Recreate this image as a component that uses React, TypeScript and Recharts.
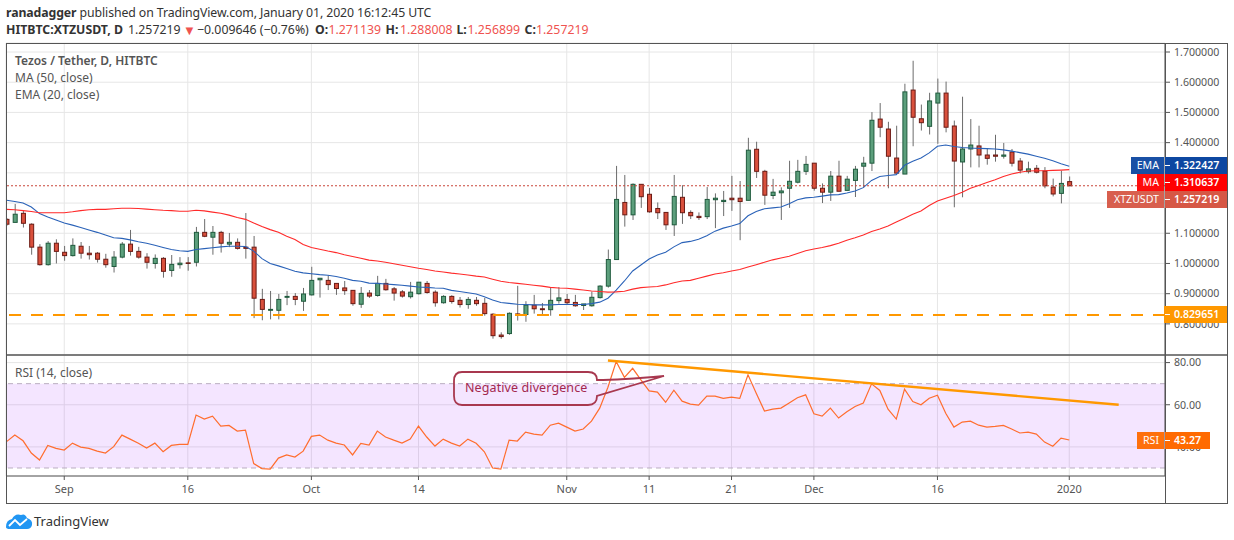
import { ComposedChart, Bar, Line, XAxis, YAxis, CartesianGrid, ReferenceLine, ReferenceArea } from "recharts";

const FONT = "'Noto Sans', sans-serif";
const firstDay = -7;

const opens = [
  1.146, 1.136, 1.166, 1.13, 1.054, 0.996, 1.067, 1.037, 1.026, 1.057,
  1.034, 1.034, 1.014, 0.99, 1.021, 1.064, 1.04, 1.021, 1.0, 1.017,
  0.977, 0.996, 1.002, 1.004, 1.103, 1.087, 1.103, 1.064, 1.07, 1.054,
  1.054, 0.881, 0.845, 0.845, 0.888, 0.891, 0.875, 0.896, 0.946, 0.944,
  0.934, 0.919, 0.911, 0.865, 0.902, 0.894, 0.934, 0.916, 0.906, 0.89,
  0.9, 0.934, 0.905, 0.87, 0.891, 0.878, 0.864, 0.878, 0.868, 0.832,
  0.763, 0.768, 0.833, 0.831, 0.862, 0.85, 0.847, 0.877, 0.881, 0.871,
  0.861, 0.86, 0.887, 0.925, 1.013, 1.202, 1.161, 1.262, 1.229, 1.182,
  1.169, 1.128, 1.219, 1.169, 1.156, 1.155, 1.211, 1.205, 1.216, 1.216,
  1.209, 1.378, 1.305, 1.225, 1.234, 1.249, 1.269, 1.305, 1.332, 1.249,
  1.236, 1.289, 1.242, 1.275, 1.322, 1.332, 1.478, 1.445, 1.349, 1.296,
  1.574, 1.479, 1.454, 1.531, 1.564, 1.455, 1.336, 1.379, 1.389, 1.359,
  1.359, 1.355, 1.369, 1.339, 1.304, 1.315, 1.306, 1.253, 1.232, 1.271,
];

const closes = [
  1.13, 1.163, 1.133, 1.054, 0.996, 1.067, 1.04, 1.026, 1.06, 1.034,
  1.029, 1.014, 0.996, 1.021, 1.064, 1.04, 1.021, 1.004, 1.017, 0.974,
  0.997, 1.001, 1.0, 1.103, 1.09, 1.103, 1.067, 1.07, 1.05, 1.05,
  0.885, 0.848, 0.848, 0.881, 0.891, 0.881, 0.899, 0.944, 0.951, 0.93,
  0.917, 0.91, 0.867, 0.901, 0.892, 0.934, 0.913, 0.902, 0.892, 0.905,
  0.938, 0.904, 0.87, 0.891, 0.874, 0.864, 0.881, 0.867, 0.834, 0.761,
  0.758, 0.835, 0.831, 0.862, 0.85, 0.847, 0.878, 0.886, 0.87, 0.86,
  0.866, 0.888, 0.925, 1.013, 1.212, 1.161, 1.262, 1.221, 1.171, 1.168,
  1.128, 1.222, 1.168, 1.158, 1.152, 1.212, 1.216, 1.209, 1.211, 1.205,
  1.375, 1.305, 1.226, 1.236, 1.24, 1.272, 1.305, 1.328, 1.249, 1.236,
  1.289, 1.239, 1.279, 1.312, 1.332, 1.474, 1.451, 1.355, 1.299, 1.568,
  1.484, 1.466, 1.538, 1.564, 1.451, 1.339, 1.379, 1.392, 1.359, 1.348,
  1.355, 1.359, 1.332, 1.309, 1.313, 1.302, 1.257, 1.23, 1.265, 1.257,
];

const highs = [
  1.15, 1.197, 1.174, 1.133, 1.064, 1.074, 1.08, 1.058, 1.083, 1.071,
  1.058, 1.038, 1.032, 1.041, 1.071, 1.111, 1.055, 1.034, 1.03, 1.021,
  1.028, 1.021, 1.021, 1.121, 1.147, 1.124, 1.108, 1.101, 1.083, 1.167,
  1.091, 0.916, 0.909, 0.899, 0.909, 0.902, 0.919, 0.989, 0.952, 0.961,
  0.934, 0.942, 0.911, 0.922, 0.912, 0.959, 0.949, 0.922, 0.912, 0.939,
  0.938, 0.942, 0.911, 0.895, 0.895, 0.889, 0.889, 0.889, 0.886, 0.835,
  0.772, 0.838, 0.926, 0.875, 0.896, 0.869, 0.921, 0.922, 0.899, 0.896,
  0.866, 0.907, 0.928, 1.046, 1.323, 1.293, 1.265, 1.262, 1.25, 1.202,
  1.169, 1.293, 1.259, 1.176, 1.169, 1.253, 1.232, 1.24, 1.29, 1.273,
  1.416, 1.403, 1.31, 1.28, 1.252, 1.34, 1.343, 1.356, 1.332, 1.265,
  1.306, 1.34, 1.29, 1.323, 1.353, 1.501, 1.531, 1.469, 1.456, 1.595,
  1.671, 1.526, 1.565, 1.612, 1.602, 1.473, 1.552, 1.478, 1.456, 1.382,
  1.426, 1.399, 1.379, 1.349, 1.337, 1.326, 1.319, 1.281, 1.307, 1.288,
];

const lows = [
  1.125, 1.136, 1.119, 1.029, 0.993, 0.993, 1.0, 1.009, 1.023, 1.016,
  1.013, 1.003, 0.986, 0.97, 1.017, 1.026, 1.016, 0.983, 0.983, 0.953,
  0.956, 0.983, 0.976, 0.99, 1.087, 1.029, 1.036, 1.054, 1.046, 1.016,
  0.819, 0.812, 0.815, 0.815, 0.862, 0.862, 0.843, 0.894, 0.887, 0.912,
  0.896, 0.896, 0.86, 0.853, 0.886, 0.89, 0.91, 0.877, 0.887, 0.884,
  0.897, 0.9, 0.857, 0.867, 0.867, 0.854, 0.85, 0.86, 0.827, 0.751,
  0.751, 0.764, 0.811, 0.807, 0.834, 0.827, 0.827, 0.867, 0.864, 0.857,
  0.846, 0.857, 0.884, 0.92, 1.013, 1.122, 1.144, 1.184, 1.168, 1.147,
  1.111, 1.091, 1.131, 1.147, 1.144, 1.147, 1.117, 1.157, 1.174, 1.077,
  1.209, 1.283, 1.194, 1.213, 1.144, 1.184, 1.265, 1.293, 1.241, 1.2,
  1.207, 1.239, 1.242, 1.22, 1.252, 1.306, 1.418, 1.249, 1.299, 1.296,
  1.388, 1.44, 1.427, 1.396, 1.434, 1.186, 1.219, 1.318, 1.318, 1.327,
  1.337, 1.347, 1.321, 1.298, 1.298, 1.298, 1.249, 1.222, 1.199, 1.257,
];

const ema20 = [
  1.209, 1.205, 1.2, 1.187, 1.165, 1.154, 1.144, 1.134, 1.127, 1.119,
  1.111, 1.103, 1.094, 1.085, 1.083, 1.078, 1.072, 1.067, 1.06, 1.053,
  1.046, 1.042, 1.04, 1.046, 1.049, 1.052, 1.055, 1.057, 1.057, 1.056,
  1.041, 1.016, 1.0, 0.992, 0.983, 0.974, 0.969, 0.966, 0.963, 0.961,
  0.957, 0.951, 0.944, 0.941, 0.935, 0.934, 0.932, 0.93, 0.928, 0.925,
  0.922, 0.921, 0.919, 0.918, 0.911, 0.907, 0.903, 0.899, 0.89, 0.879,
  0.871, 0.868, 0.865, 0.864, 0.863, 0.863, 0.863, 0.864, 0.864, 0.864,
  0.864, 0.867, 0.872, 0.885, 0.912, 0.942, 0.975, 0.995, 1.015, 1.028,
  1.037, 1.055, 1.069, 1.073, 1.08, 1.092, 1.107, 1.117, 1.124, 1.132,
  1.158, 1.172, 1.181, 1.184, 1.187, 1.198, 1.211, 1.217, 1.219, 1.223,
  1.227, 1.228, 1.233, 1.24, 1.251, 1.275, 1.288, 1.291, 1.294, 1.325,
  1.338, 1.349, 1.366, 1.388, 1.392, 1.387, 1.384, 1.382, 1.381, 1.38,
  1.379, 1.376, 1.372, 1.367, 1.362, 1.355, 1.348, 1.34, 1.33, 1.322,
];

const ma50 = [
  1.179, 1.178, 1.175, 1.172, 1.168, 1.168, 1.168, 1.168, 1.171, 1.175,
  1.178, 1.179, 1.179, 1.181, 1.183, 1.183, 1.182, 1.18, 1.178, 1.176,
  1.175, 1.173, 1.173, 1.176, 1.174, 1.17, 1.166, 1.16, 1.152, 1.146,
  1.134, 1.122, 1.112, 1.103, 1.09, 1.079, 1.063, 1.053, 1.047, 1.041,
  1.036, 1.029, 1.023, 1.017, 1.011, 1.008, 1.004, 0.999, 0.994, 0.989,
  0.984, 0.98, 0.975, 0.972, 0.968, 0.965, 0.962, 0.958, 0.955, 0.948,
  0.941, 0.937, 0.934, 0.931, 0.928, 0.925, 0.921, 0.919, 0.918, 0.915,
  0.912, 0.909, 0.907, 0.905, 0.906, 0.908, 0.915, 0.92, 0.922, 0.924,
  0.929, 0.936, 0.942, 0.944, 0.951, 0.958, 0.965, 0.969, 0.975, 0.98,
  0.988, 0.996, 1.004, 1.012, 1.018, 1.024, 1.033, 1.042, 1.048, 1.053,
  1.059, 1.067, 1.077, 1.085, 1.094, 1.106, 1.114, 1.124, 1.137, 1.15,
  1.163, 1.174, 1.192, 1.207, 1.216, 1.225, 1.236, 1.249, 1.258, 1.268,
  1.277, 1.288, 1.296, 1.302, 1.306, 1.307, 1.307, 1.308, 1.309, 1.3106,
];

const rsi14 = [
  42.5, 45.6, 42.9, 37.1, 33.8, 40.7, 39.3, 38.5, 41.8, 39.9,
  39.3, 38.0, 37.1, 40.1, 45.6, 43.7, 41.7, 39.5, 41.8, 37.7,
  40.7, 41.2, 41.2, 55.1, 53.2, 54.6, 49.9, 50.2, 47.5, 48.0,
  32.1, 29.7, 29.5, 34.7, 36.2, 35.2, 38.0, 45.0, 45.6, 43.2,
  41.8, 40.9, 36.2, 41.7, 40.9, 47.5, 44.7, 43.2, 41.8, 43.7,
  49.9, 44.7, 40.4, 43.7, 41.8, 40.4, 43.7, 41.7, 37.7, 30.0,
  29.5, 43.2, 42.8, 47.0, 46.1, 45.6, 50.3, 51.3, 49.4, 47.5,
  48.5, 52.2, 58.4, 68.3, 80.5, 73.0, 77.3, 71.8, 66.6, 66.0,
  61.2, 66.9, 61.7, 60.3, 59.8, 64.1, 64.1, 63.0, 63.6, 63.0,
  74.2, 65.5, 57.0, 57.9, 58.4, 60.8, 63.3, 64.7, 55.7, 54.6,
  58.4, 53.7, 56.7, 59.2, 60.8, 69.9, 66.8, 57.9, 53.2, 67.4,
  61.5, 60.0, 63.1, 64.5, 56.0, 49.4, 51.8, 52.2, 50.3, 49.4,
  49.7, 50.2, 48.5, 46.6, 47.0, 46.1, 42.3, 40.3, 44.2, 43.27,
];

const tickDays = [0, 15, 30, 43, 61, 71, 81, 91, 106, 122];
const tickNames = ["Sep", "16", "Oct", "14", "Nov", "11", "21", "Dec", "16", "2020"];
const priceTicks = [0.7, 0.8, 0.9, 1.0, 1.1, 1.2, 1.3, 1.4, 1.5, 1.6, 1.7];
// these two sit fully behind the price tags in the reference
const coveredPriceTicks = [1.2, 1.3];
const rsiTicks = [40, 60, 80];
const lastClose = 1.257219;
const supportLevel = 0.829651;
const rsiTrend = [
  { x: 66, y: 81 },
  { x: 128, y: 60 },
];

const rows = opens.map((open, i) => ({
  day: firstDay + i,
  open,
  close: closes[i],
  high: highs[i],
  low: lows[i],
  ema: ema20[i],
  ma: ma50[i],
  rsi: rsi14[i],
}));

const dayDomain: [number, number] = [-7.07, 133.62];

// wick + body, pixel positions worked out from the low/high bar that recharts scaled
const Candle = (props: any) => {
  const { x, y, width, height, payload } = props;
  const top = Math.min(y, y + height);
  const h = Math.abs(height);
  const cx = x + width / 2;
  const range = payload.high - payload.low || 1;
  const upper = Math.max(payload.open, payload.close);
  const lower = Math.min(payload.open, payload.close);
  const y1 = top + ((payload.high - upper) / range) * h;
  const y2 = top + ((payload.high - lower) / range) * h;
  const up = payload.close >= payload.open;
  return (
    <g>
      <line x1={cx} x2={cx} y1={top} y2={top + h} stroke="#6b6b6b" strokeWidth={1} />
      <rect
        x={cx - 2}
        y={y1}
        width={4}
        height={Math.max(y2 - y1, 0.6)}
        fill={up ? "#5c9f7c" : "#d9503c"}
        stroke={up ? "#1f5a3d" : "#6b1a14"}
        strokeWidth={1}
      />
    </g>
  );
};

const tagBase: any = {
  position: "absolute",
  height: 17,
  lineHeight: "17px",
  fontFamily: FONT,
  fontSize: 10.6,
  color: "#fff",
};

const AxisTag = ({ top, name, nameLeft, value, color, right = 1227 }: any) => (
  <>
    <div style={{ ...tagBase, top, left: nameLeft, width: 1164 - nameLeft - 5, paddingRight: 5, textAlign: "right", background: color, opacity: 0.95 }}>{name}</div>
    <div style={{ ...tagBase, top, left: 1165, width: right - 1165 - 9, paddingLeft: 9, background: color, fontWeight: 600 }}>{value}</div>
    <div style={{ position: "absolute", top: top + 8, left: 1165, width: 5, height: 1, background: "#fff" }} />
  </>
);

const Txt = ({ x, y, children, style }: any) => (
  <div style={{ position: "absolute", left: x, top: y, fontFamily: FONT, fontSize: 12, lineHeight: "16px", whiteSpace: "nowrap", color: "#555", ...style }}>
    {children}
  </div>
);

const head = { color: "#333", fontSize: 12.3 };
const headBold = { ...head, fontWeight: 700 };
const headRed = { ...head, color: "#ef5350" };

export default function App() {
  return (
    <div style={{ position: "absolute", left: 0, top: 0, width: 1234, height: 540, background: "#fff", overflow: "hidden" }}>
      <div style={{ position: "absolute", left: 0, top: 0 }}>
        <ComposedChart width={1234} height={355} data={rows} margin={{ top: 43, right: 0, bottom: 0, left: 6 }} barSize={7}>
          <CartesianGrid stroke="#e6e6e6" strokeWidth={1} />
          <XAxis dataKey="day" type="number" domain={dayDomain} ticks={tickDays} allowDataOverflow hide />
          <YAxis
            orientation="right"
            width={69}
            domain={[0.697, 1.7298]}
            ticks={priceTicks}
            allowDataOverflow
            stroke="#555"
            tickSize={5}
            tickMargin={4}
            tick={{ fontSize: 10.6, fill: "#555", fontFamily: FONT }}
            tickFormatter={(v: number) => (coveredPriceTicks.includes(v) ? "" : v.toFixed(6))}
          />
          <Bar dataKey={(d: any) => [d.low, d.high]} shape={<Candle />} isAnimationActive={false} />
          <Line dataKey="ema" stroke="#2a62b8" strokeWidth={1.1} dot={false} isAnimationActive={false} />
          <Line dataKey="ma" stroke="#ff2a2a" strokeWidth={1.1} dot={false} isAnimationActive={false} />
          <ReferenceLine y={lastClose} stroke="#c9463a" strokeDasharray="2 2" strokeWidth={1} />
          <ReferenceLine y={supportLevel} stroke="#ff9800" strokeWidth={2} strokeDasharray="12 10" />
        </ComposedChart>
      </div>

      <div style={{ position: "absolute", left: 0, top: 355, background: "#fff" }}>
        <ComposedChart width={1234} height={148} data={rows} margin={{ top: 0, right: 0, bottom: 0, left: 6 }}>
          <CartesianGrid stroke="#e6e6e6" strokeWidth={1} />
          <XAxis
            dataKey="day"
            type="number"
            domain={dayDomain}
            ticks={tickDays}
            allowDataOverflow
            height={27}
            stroke="#555"
            tickSize={4}
            tickMargin={5}
            tick={{ fontSize: 11, fill: "#555", fontFamily: FONT }}
            tickFormatter={(v: number) => tickNames[tickDays.indexOf(v)]}
          />
          <YAxis
            orientation="right"
            width={69}
            domain={[26.2, 83.6]}
            ticks={rsiTicks}
            allowDataOverflow
            stroke="#555"
            tickSize={5}
            tickMargin={4}
            tick={{ fontSize: 10.6, fill: "#555", fontFamily: FONT }}
            tickFormatter={(v: number) => v.toFixed(2)}
          />
          <ReferenceArea y1={30} y2={70} fill="#9915ff" fillOpacity={0.11} stroke="none" />
          <ReferenceLine y={70} stroke="#b9aec0" strokeDasharray="5 4" />
          <ReferenceLine y={30} stroke="#b9aec0" strokeDasharray="5 4" />
          <Line dataKey="rsi" stroke="#ff6d2e" strokeWidth={1.2} dot={false} isAnimationActive={false} />
          <ReferenceLine segment={rsiTrend} stroke="#ff9800" strokeWidth={2.4} />
        </ComposedChart>
      </div>

      {/* frame and pane separator */}
      <svg width={1234} height={540} style={{ position: "absolute", left: 0, top: 0, pointerEvents: "none" }}>
        <rect x={6.5} y={43.5} width={1221} height={460} fill="none" stroke="#555" />
        <line x1={6} x2={1228} y1={355} y2={355} stroke="#555" strokeWidth={1.4} />
        <line x1={1165.5} x2={1165.5} y1={43} y2={503} stroke="#555" />
        {/* callout */}
        <path
          d="M462 372 H588 Q597 372 597 380 Q620 380 664 376 L597 396 Q597 405 588 405 H462 Q454 405 454 396 V381 Q454 372 462 372 Z"
          fill="none"
          stroke="#a8384f"
          strokeWidth={1.8}
        />
        {/* logo */}
        <path d="M6 527 Q6 520 12 519 Q15 513 21 515 Q25 513 27 518 Q33 520 32 525 Q31 529 27 529 H10 Q6 529 6 527 Z" fill="#2196f3" />
        <path d="M9 526 L15 520 L20 525 L27 519" fill="none" stroke="#fff" strokeWidth={1.8} />
      </svg>

      <Txt x={6} y={5} style={{ ...head, letterSpacing: -0.1 }}>
        <span style={{ fontWeight: 700 }}>ranadagger</span> published on TradingView.com, January 01, 2020 16:12:45 UTC
      </Txt>
      <Txt x={6} y={22} style={headBold}>HITBTC:XTZUSDT, D</Txt>
      <Txt x={128} y={22} style={head}>1.257219</Txt>
      <Txt x={183} y={22} style={{ ...head, color: "#ef5350", fontSize: 13 }}>▼</Txt>
      <Txt x={197} y={22} style={head}>−0.009646 (−0.76%)</Txt>
      <Txt x={315} y={22} style={headBold}>O:</Txt>
      <Txt x={328.5} y={22} style={headRed}>1.271139</Txt>
      <Txt x={385.5} y={22} style={headBold}>H:</Txt>
      <Txt x={400} y={22} style={headRed}>1.288008</Txt>
      <Txt x={456.5} y={22} style={headBold}>L:</Txt>
      <Txt x={467.5} y={22} style={headRed}>1.256899</Txt>
      <Txt x={524.5} y={22} style={headBold}>C:</Txt>
      <Txt x={536} y={22} style={headRed}>1.257219</Txt>

      <Txt x={15} y={53} style={{ fontWeight: 600 }}>Tezos / Tether, D, HITBTC</Txt>
      <Txt x={15} y={70}>MA (50, close)</Txt>
      <Txt x={15} y={87}>EMA (20, close)</Txt>
      <Txt x={15} y={365}>RSI (14, close)</Txt>
      <Txt x={465} y={380} style={{ color: "#a3284e", fontSize: 12.5, letterSpacing: 0.1 }}>Negative divergence</Txt>

      <AxisTag top={157} name="EMA" nameLeft={1131} value="1.322427" color="#0d47a1" />
      <AxisTag top={174} name="MA" nameLeft={1137} value="1.310637" color="#ff0000" />
      <AxisTag top={191} name="XTZUSDT" nameLeft={1107} value="1.257219" color="#d65745" />
      <AxisTag top={306} name="" nameLeft={1164} value="0.829651" color="#ff9800" />
      <AxisTag top={432} name="RSI" nameLeft={1137} value="43.27" color="#ff6a00" right={1210} />

      <Txt x={34} y={513} style={{ color: "#333", fontSize: 13 }}>TradingView</Txt>
    </div>
  );
}
